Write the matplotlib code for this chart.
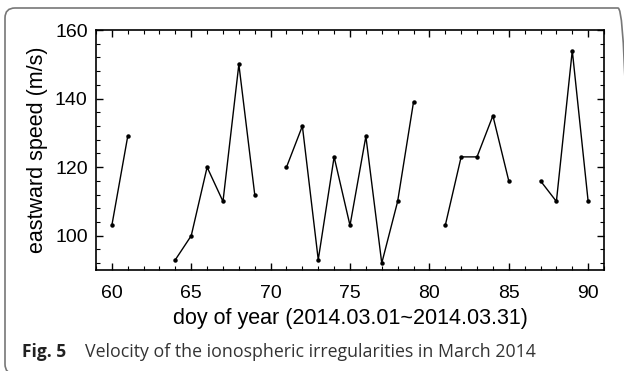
import numpy as np
import matplotlib
matplotlib.use("Agg")
import matplotlib.pyplot as plt
from matplotlib.patches import FancyBboxPatch
from matplotlib.ticker import MultipleLocator

# day of year, NaN marks a gap in the record
doy = [60, 61, 62, 64, 65, 66, 67, 68, 69, 70,
       71, 72, 73, 74, 75, 76, 77, 78, 79, 80,
       81, 82, 83, 84, 85, 86, 87, 88, 89, 90]
speed = [103, 129, np.nan, 93, 100, 120, 110, 150, 112, np.nan,
         120, 132, 93, 123, 103, 129, 92, 110, 139, np.nan,
         103, 123, 123, 135, 116, np.nan, 116, 110, 154, 110]

x_ticks = [60, 65, 70, 75, 80, 85, 90]
y_ticks = [100, 120, 140, 160]

plt.rcParams['font.family'] = ['Liberation Sans', 'DejaVu Sans']

fig = plt.figure(figsize=(6.24, 3.71), dpi=100)
ax = fig.add_axes([0.1538, 0.2722, 0.8142, 0.6468])

ax.plot(doy, speed, color='black', lw=1.0, marker='o', ms=2.2)

ax.set_xlim(59, 91)
ax.set_ylim(90, 160)
ax.set_xticks(x_ticks)
ax.set_yticks(y_ticks)
ax.xaxis.set_minor_locator(MultipleLocator(1))
ax.yaxis.set_minor_locator(MultipleLocator(4))
ax.tick_params(which='both', direction='in', top=True, right=True,
               labeltop=False, labelright=False)
ax.tick_params(which='major', length=5, width=1, labelsize=14)
ax.tick_params(axis='x', which='major', pad=11)
ax.tick_params(axis='y', which='major', pad=6)
ax.tick_params(which='minor', length=3, width=0.8)
for s in ax.spines.values():
    s.set_linewidth(1.2)

ax.set_xlabel('doy of year (2014.03.01~2014.03.31)', fontsize=15.5, labelpad=4)
ax.set_ylabel('eastward speed (m/s)', fontsize=15.5, labelpad=5)

# rounded frame around figure, cut off at right and bottom edges
box = FancyBboxPatch((5 / 624, -3 / 371), 623 / 624, 1 - 5 / 371,
                     boxstyle='round,pad=0,rounding_size=0.016',
                     transform=fig.transFigure, fill=False, ec='#777777', lw=1.2,
                     mutation_aspect=624 / 371, clip_on=False)
fig.patches.append(box)

fig.text(22 / 624, 1 - 352 / 371, 'Fig. 5', fontsize=12.5, fontweight='bold',
         family=['Open Sans', 'DejaVu Sans'], color='#222222', va='center')
fig.text(85 / 624, 1 - 352 / 371, 'Velocity of the ionospheric irregularities in March 2014',
         fontsize=12.8, family=['Open Sans', 'DejaVu Sans'], color='#333333', va='center')

fig.savefig('out.png', dpi=100)
